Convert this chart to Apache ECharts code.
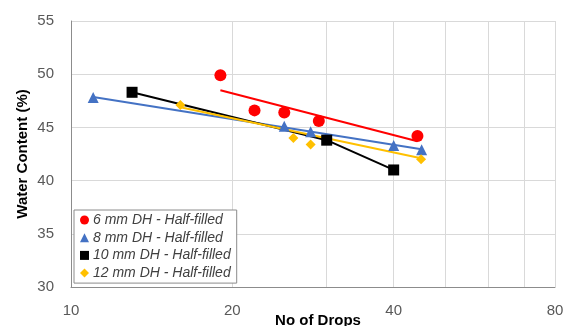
<!DOCTYPE html>
<html>
<head>
<meta charset="utf-8">
<script src="https://cdn.jsdelivr.net/npm/echarts@6/dist/echarts.min.js"></script>
<style>html,body{margin:0;padding:0;background:#fff}#c{width:563px;height:326px}</style>
</head>
<body>
<div id="c"></div>
<script>
// ---- data ----
const seriesNames = ['6 mm DH - Half-filled', '8 mm DH - Half-filled', '10 mm DH - Half-filled', '12 mm DH - Half-filled'];
const drops6 = [19, 22, 25, 29, 44.3];
const water6 = [49.9, 46.6, 46.4, 45.6, 44.2];
const drops8 = [11, 25, 28, 40, 45.1];
const water8 = [47.8, 45.1, 44.6, 43.3, 42.9];
const drops10 = [13, 30, 40];
const water10 = [48.3, 43.8, 41.0];
const drops12 = [16, 26, 28, 45];
const water12 = [47.1, 44.0, 43.4, 42.0];
// trend line end points
const trend6X = [19, 44.3];
const trend6Y = [48.5, 43.7];
const trend8X = [11, 45.1];
const trend8Y = [47.85, 42.95];
const trend12X = [16, 45];
const trend12Y = [46.9, 42.1];
const xLabelTicks = [10, 20, 40, 80];
const xGridTicks = [10, 20, 30, 40, 50, 60, 70, 80];

const zip = (xs, ys) => xs.map((x, i) => [x, ys[i]]);
const colors = ['#FF0000', '#4472C4', '#000000', '#FFC000'];

const chart = echarts.init(document.getElementById('c'), null, {renderer: 'canvas'});
chart.setOption({
  animation: false,
  backgroundColor: '#ffffff',
  textStyle: {fontFamily: 'Liberation Sans'},
  grid: {left: 71, right: 8, top: 21, bottom: 39, containLabel: false, outerBoundsMode: 'none'},
  xAxis: {
    type: 'log', logBase: 2, min: 10, max: 80,
    name: 'No of Drops', nameLocation: 'middle', nameGap: 26, nameMoveOverlap: false,
    nameTextStyle: {fontWeight: 'bold', fontSize: 15, color: '#000', fontFamily: 'Liberation Sans', padding: [0, 0, 0, 10]},
    axisLine: {show: true, lineStyle: {color: '#8c8c8c', width: 1}},
    axisTick: {show: false, customValues: xGridTicks},
    axisLabel: {customValues: xLabelTicks, color: '#595959', fontSize: 15, margin: 16, fontFamily: 'Liberation Sans'},
    splitLine: {show: true, lineStyle: {color: '#d9d9d9', width: 1}},
    minorTick: {show: false}, minorSplitLine: {show: false}
  },
  yAxis: {
    type: 'value', min: 30, max: 55, interval: 5,
    name: 'Water Content (%)', nameLocation: 'middle', nameGap: 41, nameRotate: 90, nameMoveOverlap: false,
    nameTextStyle: {fontWeight: 'bold', fontSize: 15, color: '#000', fontFamily: 'Liberation Sans'},
    axisLine: {show: true, lineStyle: {color: '#8c8c8c', width: 1}},
    axisTick: {show: false},
    axisLabel: {color: '#595959', fontSize: 15, margin: 17, fontFamily: 'Liberation Sans'},
    splitLine: {show: true, lineStyle: {color: '#d9d9d9', width: 1}}
  },
  legend: {
    data: [
      {name: seriesNames[0], icon: 'circle'},
      {name: seriesNames[1], icon: 'triangle'},
      {name: seriesNames[2], icon: 'rect'},
      {name: seriesNames[3], icon: 'diamond'}
    ],
    orient: 'vertical', left: 74, top: 210,
    padding: [3, 6, 3, 6], itemGap: 3.7,
    itemWidth: 9, itemHeight: 9,
    backgroundColor: '#ffffff', borderColor: '#8c8c8c', borderWidth: 1, borderRadius: 0,
    itemStyle: {opacity: 1},
    textStyle: {fontSize: 14, fontStyle: 'italic', color: '#404040', fontFamily: 'Liberation Sans', padding: [0, 0, 0, -1]}
  },
  series: [
    {type: 'line', data: zip(trend8X, trend8Y), showSymbol: false, symbol: 'none', lineStyle: {color: colors[1], width: 2}, z: 2, silent: true},
    {type: 'line', data: zip(drops10, water10), showSymbol: false, symbol: 'none', lineStyle: {color: colors[2], width: 2}, z: 2, silent: true},
    {type: 'line', data: zip(trend12X, trend12Y), showSymbol: false, symbol: 'none', lineStyle: {color: colors[3], width: 2}, z: 2, silent: true},
    {type: 'line', data: zip(trend6X, trend6Y), showSymbol: false, symbol: 'none', lineStyle: {color: colors[0], width: 2}, z: 2, silent: true},
    {name: seriesNames[0], type: 'scatter', data: zip(drops6, water6), symbol: 'circle', symbolSize: 12, itemStyle: {color: colors[0], opacity: 1}, z: 4},
    {name: seriesNames[1], type: 'scatter', data: zip(drops8, water8), symbol: 'triangle', symbolSize: 11, itemStyle: {color: colors[1], opacity: 1}, z: 4},
    {name: seriesNames[2], type: 'scatter', data: zip(drops10, water10), symbol: 'rect', symbolSize: 11, itemStyle: {color: colors[2], opacity: 1}, z: 4},
    {name: seriesNames[3], type: 'scatter', data: zip(drops12, water12), symbol: 'diamond', symbolSize: 10, itemStyle: {color: colors[3], opacity: 1}, z: 4}
  ]
});
</script>
</body>
</html>
